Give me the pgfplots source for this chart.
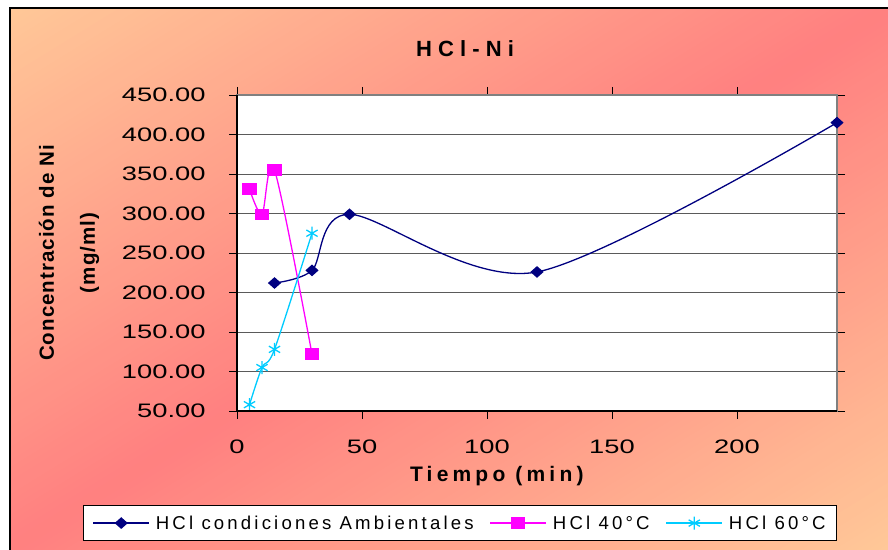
\documentclass[border=0pt]{standalone}
\usepackage{pgfplots}
\pgfplotsset{compat=1.18}
\usepackage{fontspec}
\setmainfont{Liberation Sans}
\newfontfamily\tickfamily[FakeStretch=1.4]{Liberation Sans}
\newfontfamily\legendfamily[LetterSpace=17]{Liberation Sans}
\newfontfamily\titlefamily[LetterSpace=28]{Liberation Sans}
\newfontfamily\xlabelfamily[LetterSpace=20]{Liberation Sans}
\newfontfamily\ylabelfamily[LetterSpace=5]{Liberation Sans}

\definecolor{peach}{RGB}{255,200,152}
\definecolor{rosered}{RGB}{255,128,128}
\definecolor{navyline}{RGB}{0,0,128}
\definecolor{magline}{RGB}{255,0,255}
\definecolor{cyanline}{RGB}{0,204,255}
\definecolor{gridgray}{RGB}{90,90,90}
\definecolor{framegray}{RGB}{128,128,128}

\begin{document}
\begin{tikzpicture}[x=1bp,y=1bp]
\useasboundingbox (0,0) rectangle (888,550);
\fill[white] (0,0) rectangle (888,550);
% diagonal peach -> rose -> peach background
\begin{scope}
  \clip (10,0) rectangle (888,542);
  \begin{scope}[shift={(10,542)}, rotate=-58.4]
    \foreach \i in {0,...,159} {
      \pgfmathsetmacro\p{100*(1-abs(2*(\i+0.5)/160-1))}
      \pgfmathsetmacro\ua{\i*5.7625}
      \pgfmathsetmacro\ub{(\i+1.4)*5.7625}
      \fill[rosered!\p!peach] (\ua,-1400) rectangle (\ub,1400);
    }
  \end{scope}
\end{scope}
\draw[black, line width=1.5] (10,0) -- (10,542) -- (888,542);

\begin{axis}[
  at={(237bp,139bp)}, anchor=south west,
  scale only axis, width=600bp, height=316bp,
  xmin=0, xmax=240, ymin=50, ymax=450,
  xtick={0,50,...,200}, ytick={50,100,...,450},
  axis background/.style={fill=white},
  ymajorgrids, grid style={draw=gridgray, line width=0.9bp},
  axis line style={draw=framegray, line width=1.6bp},
  tick align=outside, major tick length=8bp,
  tick style={black, line width=0.9bp},
  /pgf/number format/assume math mode=true,
  yticklabel={\pgfmathprintnumber[fixed, fixed zerofill, precision=2]{\tick}},
  yticklabel style={font=\tickfamily\fontsize{19.5bp}{23bp}\selectfont, anchor=east, xshift=-20bp},
  xticklabel style={font=\tickfamily\fontsize{19.5bp}{23bp}\selectfont, anchor=north, yshift=-17bp},
  title={HCl-Ni},
  title style={at={(axis description cs:0.38,1.104)}, anchor=base,
    font=\titlefamily\bfseries\fontsize{22bp}{26bp}\selectfont},
  xlabel={Tiempo (min)},
  xlabel style={at={(axis description cs:0.433,-0.222)}, anchor=base,
    font=\xlabelfamily\bfseries\fontsize{21bp}{25bp}\selectfont},
  ylabel={Concentración de Ni\\[16bp](mg/ml)},
  ylabel style={at={(axis description cs:-0.28,0.5)}, anchor=center, align=center,
    font=\ylabelfamily\bfseries\fontsize{20.5bp}{25bp}\selectfont},
  legend columns=3,
  legend cell align=left,
  legend style={at={(axis description cs:-0.2567,-0.2975)}, anchor=north west,
    draw=black, line width=1.2bp, fill=white,
    font=\legendfamily\fontsize{18.6bp}{22bp}\selectfont,
    inner xsep=9bp, inner ysep=8bp,
    /tikz/every odd column/.append style={column sep=4bp},
    /tikz/every even column/.append style={column sep=14bp}},
  legend image code/.code={\draw[mark repeat=2, mark phase=2, #1]
    plot coordinates {(0bp,0bp) (28bp,0bp) (56bp,0bp)};},
  every axis plot/.append style={line width=1.3bp},
  after end axis/.code={
    \draw[black, line width=1.3bp] (rel axis cs:0,1) -- (rel axis cs:0,0) -- (rel axis cs:1,0);
  },
]
\addplot[navyline, smooth, mark=diamond*, mark size=5bp,
  mark options={xscale=1.5, fill=navyline}]
  coordinates {(15,212) (30,228) (45,299) (120,226) (240,415)};
\addplot[magline, smooth, mark=square*, mark size=5bp,
  mark options={xscale=1.3, fill=magline}]
  coordinates {(5,331) (10,299) (15,355) (30,122)};
\addplot[cyanline, smooth, mark=asterisk, mark size=6.5bp]
  coordinates {(5,58) (10,105) (15,128) (30,275)};
\legend{HCl condiciones Ambientales, HCl 40°C, HCl 60°C}
\end{axis}
\end{tikzpicture}
\end{document}
